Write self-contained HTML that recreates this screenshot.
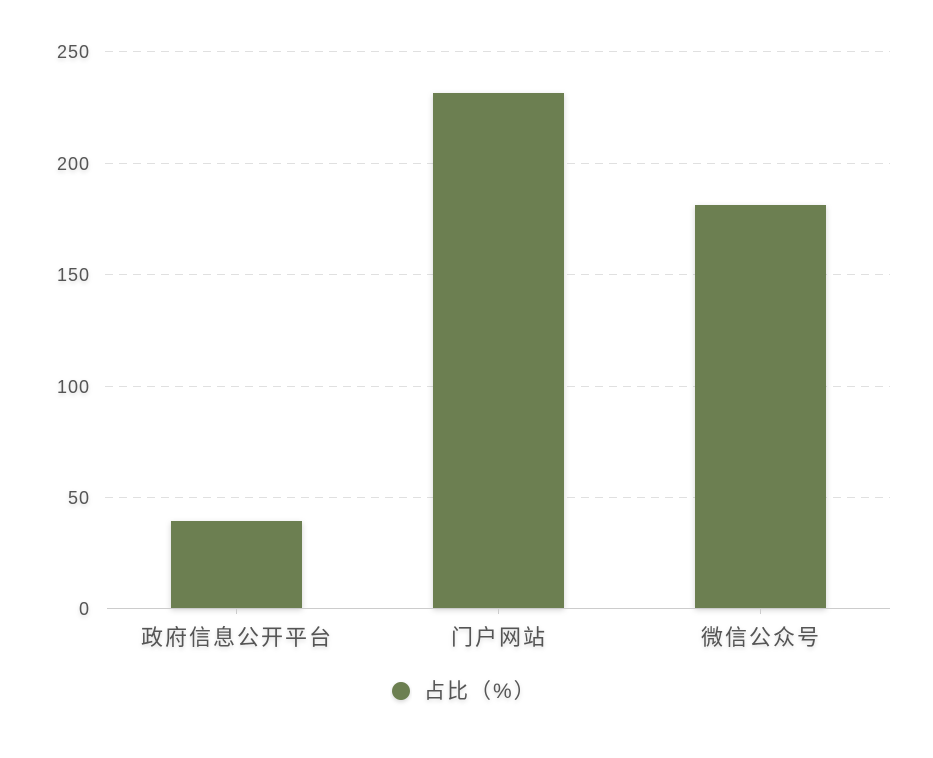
<!DOCTYPE html>
<html><head><meta charset="utf-8"><style>
html,body{margin:0;padding:0;background:#fff;}
svg{display:block;}
text{font-family:"Liberation Sans","Noto Sans CJK SC",sans-serif;fill:#555;}
</style></head><body>
<svg width="933" height="758" viewBox="0 0 933 758" xmlns="http://www.w3.org/2000/svg">
<defs>
<filter id="sh" x="-20%" y="-20%" width="140%" height="140%"><feDropShadow dx="0" dy="2" stdDeviation="3" flood-color="#000" flood-opacity="0.18"/></filter>
<filter id="ts" x="-10%" y="-30%" width="120%" height="160%"><feDropShadow dx="0" dy="2" stdDeviation="2" flood-color="#000" flood-opacity="0.15"/></filter>
</defs>
<g stroke="#e0e0e0" stroke-width="1" stroke-dasharray="8,6">
<line x1="105" y1="51.5" x2="890" y2="51.5"/>
<line x1="105" y1="163.5" x2="890" y2="163.5"/>
<line x1="105" y1="274.5" x2="890" y2="274.5"/>
<line x1="105" y1="386.5" x2="890" y2="386.5"/>
<line x1="105" y1="497.5" x2="890" y2="497.5"/>
</g>
<g font-size="18" text-anchor="end" letter-spacing="1" filter="url(#ts)">
<text x="90" y="58">250</text>
<text x="90" y="170">200</text>
<text x="90" y="281">150</text>
<text x="90" y="393">100</text>
<text x="90" y="504">50</text>
<text x="90" y="615">0</text>
</g>
<g fill="#6c7f51" filter="url(#sh)">
<rect x="171" y="521" width="131" height="87"/>
<rect x="433" y="93" width="131" height="515"/>
<rect x="695" y="205" width="131" height="403"/>
</g>
<line x1="107" y1="608.5" x2="890" y2="608.5" stroke="#ccc" stroke-width="1"/>
<g stroke="#ccc"><line x1="236.5" y1="608" x2="236.5" y2="614"/><line x1="498.5" y1="608" x2="498.5" y2="614"/><line x1="760.5" y1="608" x2="760.5" y2="614"/></g>
<g font-size="22" text-anchor="middle" letter-spacing="2" filter="url(#ts)">
<text x="237" y="645">政府信息公开平台</text>
<text x="499" y="645">门户网站</text>
<text x="761" y="645">微信公众号</text>
</g>
<circle cx="401" cy="691" r="9" fill="#6c7f51" filter="url(#ts)"/>
<text x="424" y="698" font-size="21" letter-spacing="2" filter="url(#ts)">占比（%）</text>
</svg>
</body></html>
